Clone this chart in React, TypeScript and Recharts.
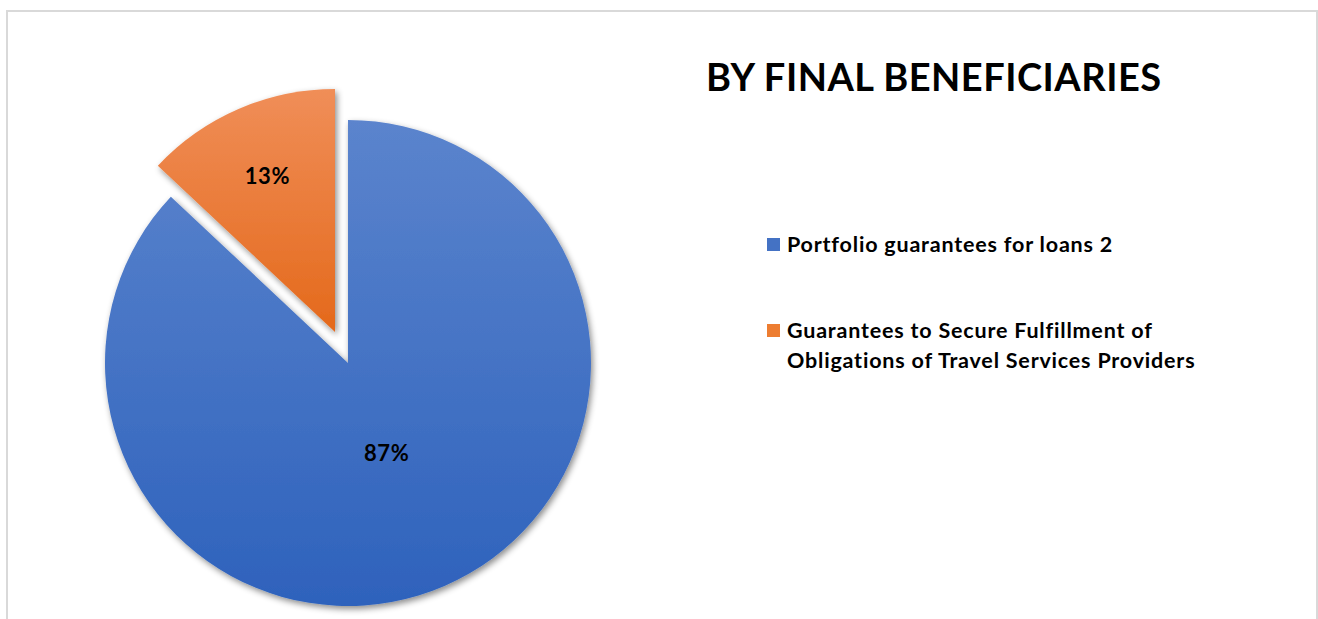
import React from "react";
import { PieChart, Pie, Cell, Legend } from "recharts";

const categories = [
  "Portfolio guarantees for loans 2",
  "Guarantees to Secure Fulfillment of Obligations of Travel Services Providers",
];
const shares = [87, 13];
const legendLines = [
  ["Portfolio guarantees for loans 2"],
  ["Guarantees to Secure Fulfillment of", "Obligations of Travel Services Providers"],
];
const swatches = ["#4472C4", "#ED7D31"];
const gradIds = ["gradBlue", "gradOrange"];

const data = categories.map((name, i) => ({ name, value: shares[i] }));

const RADIAN = Math.PI / 180;
const FONT = "Lato, 'Open Sans', sans-serif";

// label position as fraction of radius, per slice
const labelPos = [0.4, 0.7];

function makeLabel(which: number) {
  return (props: any) => {
    const { cx, cy, midAngle, outerRadius, index, value } = props;
    if (index !== which) return null;
    const r = outerRadius * labelPos[index];
    const x = cx + r * Math.cos(-midAngle * RADIAN);
    const y = cy + r * Math.sin(-midAngle * RADIAN);
    return (
      <text
        x={x}
        y={y}
        textAnchor="middle"
        dominantBaseline="central"
        fill="#000"
        fontFamily={FONT}
        fontWeight={700}
        fontSize={22}
        letterSpacing={0.6}
      >
        {value}%
      </text>
    );
  };
}

function LegendBox() {
  return (
    <div style={{ fontFamily: FONT, fontWeight: 700, fontSize: 21.5, letterSpacing: 0.8, color: "#000" }}>
      {legendLines.map((lines, i) => (
        <div key={i} style={{ display: "flex", marginBottom: i === 0 ? 56 : 0 }}>
          <div
            style={{
              width: 13,
              height: 13,
              background: swatches[i],
              marginTop: 9,
              marginRight: 7,
              flexShrink: 0,
            }}
          />
          <div style={{ lineHeight: "30px" }}>
            {lines.map((l) => (
              <div key={l}>{l}</div>
            ))}
          </div>
        </div>
      ))}
    </div>
  );
}

export default function App() {
  return (
    <div style={{ position: "absolute", left: 0, top: 0, width: 1318, height: 619, background: "#fff" }}>
      <div
        style={{
          position: "absolute",
          left: 6,
          top: 10,
          width: 1308,
          height: 640,
          border: "2px solid #d9d9d9",
        }}
      />
      <div
        style={{
          position: "absolute",
          left: 706,
          top: 53,
          fontFamily: FONT,
          fontWeight: 700,
          fontSize: 38,
          letterSpacing: 0.5,
          color: "#000",
          whiteSpace: "nowrap",
        }}
      >
        BY FINAL BENEFICIARIES
      </div>
      <div style={{ position: "absolute", left: 0, top: 0 }}>
        <PieChart width={1318} height={619} margin={{ top: 0, right: 0, bottom: 0, left: 0 }}>
          <defs>
            <linearGradient id="gradBlue" x1="0" y1="0" x2="0" y2="1">
              <stop offset="0%" stopColor="#5B84CD" />
              <stop offset="100%" stopColor="#2E62BC" />
            </linearGradient>
            <linearGradient id="gradOrange" x1="0" y1="0" x2="0" y2="1">
              <stop offset="0%" stopColor="#F08E58" />
              <stop offset="100%" stopColor="#E4691B" />
            </linearGradient>
            <filter id="shadow" x="-10%" y="-10%" width="120%" height="120%">
              <feDropShadow dx="2" dy="3" stdDeviation="3" floodColor="#000" floodOpacity="0.45" />
            </filter>
          </defs>
          <Pie
            data={data}
            dataKey="value"
            cx={348}
            cy={363}
            outerRadius={243}
            startAngle={90}
            endAngle={-270}
            stroke="none"
            isAnimationActive={false}
            labelLine={false}
            label={makeLabel(0)}
          >
            {data.map((d, i) => (
              <Cell
                key={d.name}
                fill={i === 0 ? `url(#${gradIds[0]})` : "none"}
                filter={i === 0 ? "url(#shadow)" : undefined}
              />
            ))}
          </Pie>
          <Pie
            data={data}
            dataKey="value"
            cx={335}
            cy={332}
            outerRadius={243}
            startAngle={90}
            endAngle={-270}
            stroke="none"
            isAnimationActive={false}
            labelLine={false}
            label={makeLabel(1)}
            legendType="none"
          >
            {data.map((d, i) => (
              <Cell
                key={d.name}
                fill={i === 1 ? `url(#${gradIds[1]})` : "none"}
                filter={i === 1 ? "url(#shadow)" : undefined}
              />
            ))}
          </Pie>
          <Legend
            content={() => <LegendBox />}
            wrapperStyle={{ position: "absolute", left: 767, top: 229, width: 500 }}
          />
        </PieChart>
      </div>
    </div>
  );
}
